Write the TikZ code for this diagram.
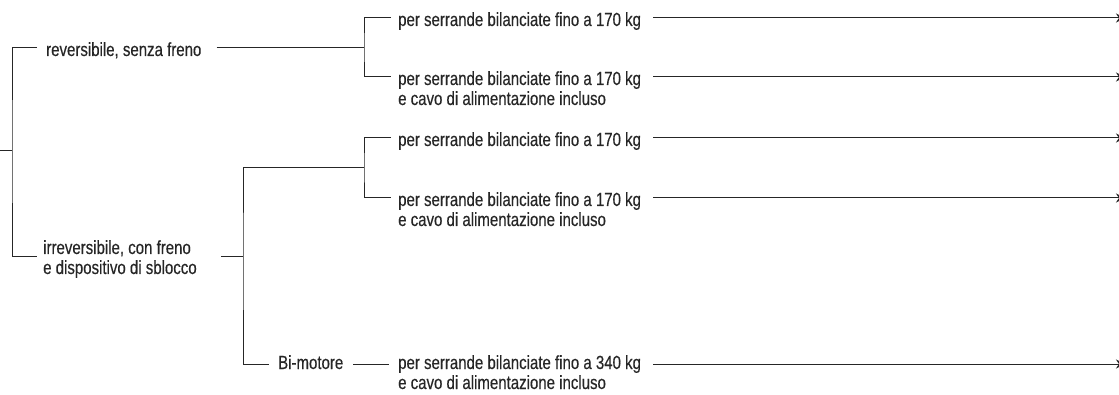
\documentclass[tikz,border=0pt]{standalone}
\usepackage{fontspec}
\setmainfont{Liberation Sans}[FakeStretch=0.79, FakeBold=0.35]
\usetikzlibrary{arrows.meta}

\tikzset{
  lbl/.style={font=\fontsize{19}{20}\selectfont, text=black!85, inner sep=0pt, anchor=base west, align=left},
  link/.style={draw=black!85, line width=1pt},
  tip/.style={link, -{Stealth[length=9pt, width=9pt]}}
}

\begin{document}
\begin{tikzpicture}[x=1pt, y=-1pt, line cap=butt, line join=miter]
  \useasboundingbox (0,0) rectangle (1119,395);

  % junctions
  \coordinate (root) at (0,151);
  \coordinate (j1) at (12,151);
  \coordinate (j2) at (364,48);
  \coordinate (j3) at (243,257);
  \coordinate (j4) at (364,168);
  \coordinate (out) at (1125,0);

  % texts (base = last line)
  \node[lbl] (rev) at (46,56) {reversibile, senza freno};
  \node[lbl] (irr) at (43,274) {irreversibile, con freno\\e dispositivo di sblocco};
  \node[lbl] (a1) at (398,26) {per serrande bilanciate fino a 170 kg};
  \node[lbl] (a2) at (398,105) {per serrande bilanciate fino a 170 kg\\e cavo di alimentazione incluso};
  \node[lbl] (b1) at (398,146) {per serrande bilanciate fino a 170 kg};
  \node[lbl] (b2) at (398,226) {per serrande bilanciate fino a 170 kg\\e cavo di alimentazione incluso};
  \node[lbl] (bi) at (278,369) {Bi-motore};
  \node[lbl] (c1) at (398,389) {per serrande bilanciate fino a 340 kg\\e cavo di alimentazione incluso};

  % brackets
  \draw[link] (root) -- (j1);
  \draw[link] ([xshift=-9pt,yshift=8pt]rev.base west) -| (j1) |- ([xshift=-6pt,yshift=17pt]irr.base west);
  \draw[link] ([xshift=15pt,yshift=8pt]rev.base east) -- (j2);
  \draw[link] ([xshift=-7pt,yshift=8pt]a1.base west) -| (j2) |- ([xshift=-7pt,yshift=28pt]a2.base west);
  \draw[link] ([xshift=24pt]irr.east |- j3) -- (j3);
  \draw[link] (j4) -| (j3) |- ([xshift=-9pt,yshift=5pt]bi.base west);
  \draw[link] ([xshift=-7pt,yshift=8pt]b1.base west) -| (j4) |- ([xshift=-7pt,yshift=28pt]b2.base west);
  \draw[link] ([xshift=10pt,yshift=5pt]bi.base east) -- ([xshift=-9pt,yshift=25pt]c1.base west);

  % outputs
  \foreach \n/\dy in {a1/8, a2/28, b1/8, b2/28, c1/25}
    \draw[tip] ([xshift=12pt,yshift=\dy pt]\n.base east) -- ([yshift=\dy pt]\n.base east -| out);
\end{tikzpicture}
\end{document}
